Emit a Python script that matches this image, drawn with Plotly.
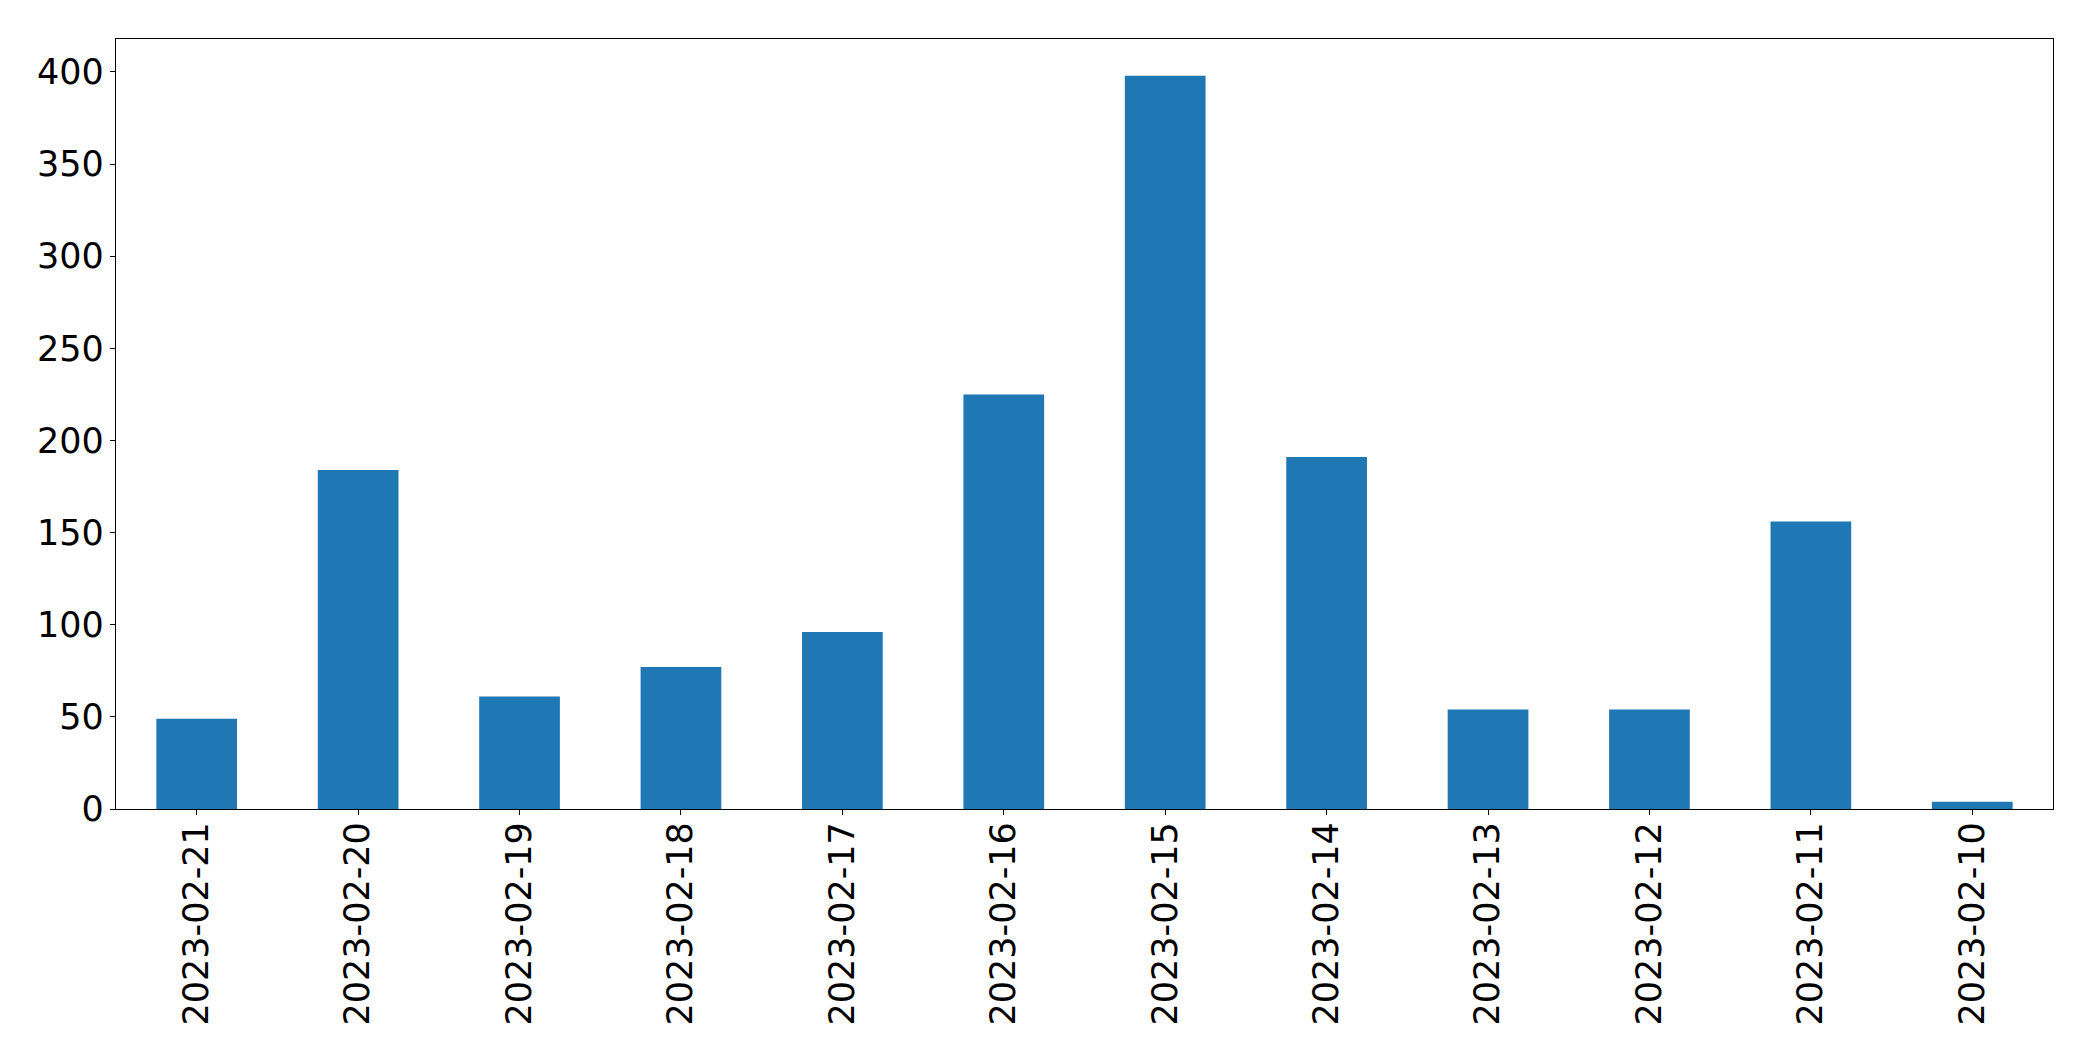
import plotly.graph_objects as go

dates = ["2023-02-21", "2023-02-20", "2023-02-19", "2023-02-18", "2023-02-17", "2023-02-16",
         "2023-02-15", "2023-02-14", "2023-02-13", "2023-02-12", "2023-02-11", "2023-02-10"]
counts = [49, 184, 61, 77, 96, 225, 398, 191, 54, 54, 156, 4]
y_ticks = [0, 50, 100, 150, 200, 250, 300, 350, 400]

fig = go.Figure(go.Bar(x=dates, y=counts, marker=dict(color="#1f77b4", line=dict(width=0)), width=0.5))

font = dict(family="DejaVu Sans", size=35, color="black")
fig.update_layout(
    width=2085, height=1053,
    margin=dict(l=108, r=40, t=31, b=252),
    paper_bgcolor="white", plot_bgcolor="white",
    showlegend=False,
    font=font,
)
fig.update_xaxes(
    type="category", tickangle=-90, range=[-0.5, 11.5],
    showline=True, linecolor="black", linewidth=1.3, mirror=True,
    ticks="outside", ticklen=5, tickwidth=1.3, tickcolor="black",
    showgrid=False, tickfont=font, ticklabelstandoff=-7,
)
fig.update_yaxes(
    range=[0, 417.9], tickvals=y_ticks,
    showline=True, linecolor="black", linewidth=1.3, mirror=True,
    ticks="outside", ticklen=5, tickwidth=1.3, tickcolor="black",
    showgrid=False, zeroline=False, tickfont=font, ticklabelstandoff=-1,
)
fig.write_html("out.html")
